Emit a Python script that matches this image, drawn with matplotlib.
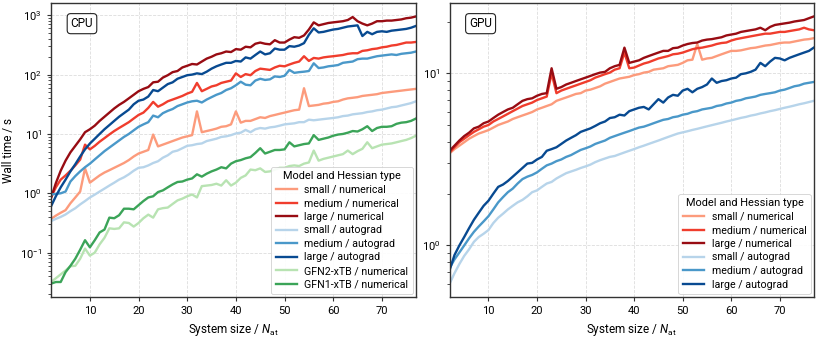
import matplotlib
matplotlib.use("Agg")
import matplotlib.pyplot as plt
from matplotlib import cm

plt.rcParams["font.family"] = ["Roboto", "DejaVu Sans"]
plt.rcParams["mathtext.fontset"] = "custom"
plt.rcParams["mathtext.rm"] = "Roboto"
plt.rcParams["mathtext.it"] = "Roboto:italic"
plt.rcParams["font.size"] = 8

# system sizes (number of atoms)
n_atoms = list(range(2, 78))

# ---- CPU wall times / s ----
cpu_small_num = [0.37, 0.42, 0.47, 0.52, 0.68, 0.85, 1.07, 2.63,
                 1.51, 1.74, 2.0, 2.24, 2.45, 2.69, 2.95, 3.24, 3.63, 4.17,
                 4.68, 5.01, 5.37, 9.77, 6.17, 6.61, 7.08, 7.59, 8.13, 8.71,
                 9.12, 9.55, 24.0, 10.7, 11.2, 11.7, 12.3, 13.2, 13.5, 14.5,
                 24.0, 15.5, 16.6, 16.6, 17.8, 19.1, 18.6, 20.0, 20.9, 21.9,
                 22.9, 24.0, 25.1, 25.7, 58.9, 29.5, 30.2, 30.9, 32.4, 33.1,
                 34.7, 35.5, 38.0, 39.8, 40.7, 41.7, 43.7, 44.7, 45.7, 46.8,
                 49.0, 50.1, 51.3, 52.5, 53.7, 55.0, 56.2, 57.5]
cpu_medium_num = [0.85, 1.26, 1.7, 2.0, 2.4, 2.95, 3.7, 6.6,
                  5.5, 6.3, 7.4, 8.5, 9.8, 11.2, 12.6, 14.1, 15.8, 18.2,
                  20.9, 22.9, 27.5, 34.7, 28.8, 31.6, 35.5, 38.0, 40.7, 43.7,
                  47.9, 51.3, 72.4, 52.5, 57.5, 63.1, 66.1, 72.4, 75.9, 79.4,
                  105, 91.2, 102, 97.7, 115, 126, 123, 120, 132, 141,
                  138, 148, 158, 166, 204, 170, 191, 186, 195, 200,
                  204, 209, 214, 224, 229, 229, 251, 257, 269, 275,
                  288, 295, 309, 316, 331, 347, 347, 355]
cpu_large_num = [0.83, 1.48, 2.4, 3.55, 4.9, 6.3, 8.1, 10.7,
                 12.0, 13.8, 16.6, 19.5, 22.9, 26.9, 30.9, 34.7, 39.8, 45.7,
                 52.5, 57.5, 61.7, 74.1, 75.9, 89.1, 97.7, 110, 115, 132,
                 141, 151, 148, 166, 186, 200, 219, 229, 245, 240,
                 269, 263, 295, 288, 331, 347, 331, 324, 380, 347,
                 347, 389, 427, 417, 457, 575, 759, 676, 708, 741,
                 759, 776, 794, 832, 933, 794, 724, 676, 724, 794,
                 794, 813, 813, 832, 851, 891, 912, 955]
cpu_small_auto = [0.34, 0.37, 0.4, 0.44, 0.5, 0.56, 0.65, 0.74,
                  0.85, 0.95, 1.07, 1.2, 1.35, 1.51, 1.7, 1.86, 2.09, 2.4,
                  2.69, 2.75, 2.95, 3.24, 3.47, 3.98, 4.37, 5.01, 5.25, 5.75,
                  6.31, 6.46, 6.76, 6.92, 7.59, 7.94, 8.32, 8.91, 9.12, 9.55,
                  10.2, 10.5, 11.7, 10.7, 12.0, 12.6, 12.3, 12.9, 13.2, 13.8,
                  14.5, 14.8, 15.1, 15.8, 15.8, 17.4, 17.0, 17.4, 17.8, 18.2,
                  18.6, 19.1, 20.0, 20.4, 21.4, 21.9, 22.4, 23.4, 24.0, 25.1,
                  25.7, 26.9, 28.2, 28.8, 30.2, 31.6, 33.1, 35.5]
cpu_medium_auto = [0.95, 0.98, 1.0, 1.07, 1.58, 1.95, 2.34, 2.75,
                   3.16, 3.72, 4.37, 5.13, 5.89, 6.76, 7.76, 8.91, 10.0, 11.5,
                   13.2, 14.5, 15.8, 20.4, 19.1, 22.4, 24.5, 26.3, 29.5, 31.6,
                   33.9, 35.5, 36.3, 33.9, 38.0, 41.7, 45.7, 49.0, 55.0, 58.9,
                   66.1, 75.9, 67.6, 66.1, 79.4, 85.1, 81.3, 83.2, 93.3, 91.2,
                   95.5, 120, 107, 110, 112, 115, 155, 129, 132, 138,
                   141, 145, 158, 162, 166, 182, 186, 186, 195, 204,
                   209, 214, 219, 214, 224, 229, 234, 245]
cpu_large_auto = [0.6, 0.89, 1.26, 1.7, 2.34, 3.09, 4.17, 5.5,
                  6.9, 8.3, 10.0, 12.0, 14.1, 16.6, 19.5, 22.4, 25.7, 31.6,
                  36.3, 38.0, 42.7, 55.0, 52.5, 60.3, 69.2, 74.1, 85.1, 91.2,
                  97.7, 100, 105, 102, 112, 126, 138, 148, 158, 158,
                  170, 166, 195, 186, 214, 245, 219, 229, 275, 263,
                  263, 302, 295, 309, 339, 468, 603, 513, 525, 550,
                  575, 589, 617, 646, 661, 676, 447, 525, 479, 525,
                  537, 525, 550, 562, 575, 589, 617, 661]
cpu_gfn2 = [0.032, 0.037, 0.043, 0.05, 0.059, 0.06, 0.079, 0.117,
            0.089, 0.1, 0.138, 0.178, 0.257, 0.251, 0.257, 0.324, 0.316, 0.275,
            0.316, 0.38, 0.437, 0.389, 0.537, 0.562, 0.575, 0.661, 0.759, 0.813,
            0.891, 0.955, 0.851, 1.32, 1.35, 1.38, 1.45, 1.35, 1.66, 1.35,
            1.51, 1.82, 2.0, 2.51, 2.45, 2.63, 2.29, 2.34, 2.51, 2.69,
            2.69, 2.88, 2.95, 2.88, 3.16, 3.31, 5.25, 3.55, 3.8, 3.98,
            4.17, 4.37, 4.57, 5.25, 4.57, 5.13, 5.62, 7.24, 5.75, 6.17,
            6.61, 6.76, 6.92, 7.24, 7.59, 7.94, 8.51, 9.33]
cpu_gfn1 = [0.030, 0.032, 0.032, 0.047, 0.060, 0.079, 0.112, 0.162,
            0.123, 0.162, 0.219, 0.245, 0.389, 0.38, 0.427, 0.55, 0.55, 0.537,
            0.631, 0.741, 0.851, 0.891, 1.05, 1.12, 1.26, 1.41, 1.55, 1.58,
            1.7, 1.78, 2.09, 1.91, 2.14, 2.34, 2.51, 2.75, 2.63, 3.16,
            3.47, 3.63, 3.89, 4.07, 4.79, 5.75, 4.68, 5.01, 5.37, 5.37,
            5.5, 7.24, 6.17, 6.46, 6.76, 6.92, 9.55, 7.94, 8.32, 8.71,
            9.33, 9.77, 10.0, 10.5, 11.2, 11.0, 12.0, 13.5, 11.2, 12.6,
            13.2, 13.2, 13.5, 14.8, 15.5, 15.8, 16.6, 18.2]

# ---- GPU wall times / s ----
gpu_small_num = [3.43, 3.63, 3.8, 3.98, 4.17, 4.32, 4.47, 4.57,
                 4.68, 4.84, 5.01, 5.13, 5.25, 5.43, 5.56, 5.69, 5.82, 5.96,
                 6.17, 6.31, 6.46, 6.61, 6.92, 7.08, 7.24, 7.41, 7.59, 7.67,
                 7.94, 8.04, 8.22, 8.41, 8.71, 8.91, 9.12, 9.33, 9.44, 9.55,
                 9.77, 9.89, 10.1, 10.2, 10.5, 10.6, 10.7, 11.0, 11.1, 11.2,
                 11.5, 11.9, 12.0, 14.8, 12.0, 12.2, 12.3, 12.6, 12.9, 13.2,
                 13.5, 13.5, 13.6, 13.8, 14.0, 14.1, 14.3, 14.5, 14.6, 14.8,
                 15.0, 15.1, 15.1, 15.3, 15.5, 15.7, 15.8, 16.0]
gpu_medium_num = [3.47, 3.72, 3.98, 4.17, 4.37, 4.57, 4.73, 4.9,
                  5.01, 5.25, 5.43, 5.62, 5.82, 6.03, 6.24, 6.46, 6.61, 6.76,
                  7.0, 7.16, 7.33, 10.0, 7.67, 7.94, 8.13, 8.32, 8.51, 8.71,
                  8.91, 9.12, 9.44, 9.66, 9.89, 10.1, 10.5, 10.7, 13.2, 10.7,
                  10.8, 11.1, 11.4, 11.6, 11.9, 12.2, 12.4, 12.6, 12.9, 13.0,
                  13.2, 13.5, 13.8, 14.0, 14.1, 14.3, 14.5, 14.8, 15.0, 15.1,
                  15.5, 15.8, 16.0, 16.2, 16.4, 16.6, 16.8, 17.0, 17.0, 17.2,
                  17.4, 17.4, 17.6, 17.8, 18.0, 18.4, 18.0, 17.8]
gpu_large_num = [3.55, 3.8, 4.07, 4.32, 4.52, 4.79, 4.9, 5.13,
                 5.25, 5.5, 5.75, 5.96, 6.17, 6.31, 6.61, 6.92, 7.08, 7.16,
                 7.41, 7.59, 7.67, 10.7, 8.13, 8.32, 8.61, 8.81, 9.02, 9.23,
                 9.44, 9.66, 9.89, 10.1, 10.2, 10.7, 11.0, 11.2, 14.1, 11.5,
                 11.7, 11.9, 12.3, 12.6, 12.9, 13.2, 13.5, 13.5, 14.0, 14.1,
                 14.5, 14.8, 15.0, 15.1, 15.5, 15.7, 15.8, 16.0, 16.2, 16.6,
                 16.8, 17.0, 17.4, 17.6, 17.8, 18.0, 18.4, 17.8, 18.6, 19.1,
                 19.3, 19.5, 19.7, 20.0, 20.2, 20.4, 20.9, 21.4]
gpu_small_auto = [0.60, 0.69, 0.78, 0.87, 0.95, 1.05, 1.12, 1.17,
                  1.23, 1.35, 1.45, 1.53, 1.62, 1.7, 1.78, 1.84, 1.93, 2.04,
                  2.09, 2.19, 2.29, 2.34, 2.45, 2.54, 2.63, 2.69, 2.75, 2.82,
                  2.88, 2.95, 3.05, 3.13, 3.2, 3.27, 3.31, 3.39, 3.47, 3.55,
                  3.63, 3.72, 3.8, 3.89, 3.98, 4.07, 4.17, 4.27, 4.37, 4.47,
                  4.54, 4.61, 4.69, 4.76, 4.84, 4.92, 5.0, 5.08, 5.16, 5.25,
                  5.33, 5.42, 5.51, 5.58, 5.68, 5.75, 5.85, 5.93, 6.03, 6.11,
                  6.21, 6.31, 6.4, 6.5, 6.61, 6.7, 6.81, 6.92]
gpu_medium_auto = [0.74, 0.83, 0.91, 1.0, 1.1, 1.2, 1.29, 1.38,
                   1.48, 1.62, 1.78, 1.91, 2.04, 2.14, 2.29, 2.43, 2.51, 2.57,
                   2.66, 2.79, 2.92, 2.99, 3.09, 3.16, 3.27, 3.35, 3.47, 3.59,
                   3.67, 3.76, 3.89, 3.98, 4.07, 4.22, 4.32, 4.42, 4.52, 4.62,
                   4.73, 4.84, 4.9, 5.01, 5.13, 5.25, 5.37, 5.43, 5.56, 5.62,
                   5.75, 5.82, 5.96, 6.03, 6.17, 6.24, 6.31, 6.46, 6.53, 6.68,
                   6.76, 6.92, 7.0, 7.16, 7.24, 7.33, 7.5, 7.59, 7.67, 7.76,
                   7.94, 8.04, 8.22, 8.41, 8.51, 8.71, 8.81, 8.91]
gpu_large_auto = [0.72, 0.88, 1.0, 1.12, 1.26, 1.41, 1.55, 1.7,
                  1.82, 2.0, 2.19, 2.26, 2.37, 2.51, 2.66, 2.82, 2.99, 3.02,
                  3.16, 3.27, 3.55, 3.63, 3.72, 3.89, 4.07, 4.22, 4.37, 4.57,
                  4.68, 4.79, 4.95, 5.13, 5.25, 5.5, 5.56, 5.75, 5.69, 6.03,
                  6.17, 6.31, 6.38, 6.17, 6.61, 7.08, 6.76, 7.24, 7.5, 7.41,
                  7.94, 8.13, 7.76, 8.13, 8.32, 8.61, 9.33, 8.81, 9.02, 9.12,
                  9.33, 9.44, 9.89, 10.0, 10.2, 10.5, 11.5, 11.0, 11.7, 12.3,
                  12.2, 11.9, 12.3, 12.6, 12.9, 13.2, 13.5, 14.1]

reds = cm.Reds([0.35, 0.62, 0.9])
blues = cm.Blues([0.3, 0.6, 0.9])
greens = cm.Greens([0.3, 0.65])

cpu_series = [
    (cpu_small_num, "small / numerical", reds[0]),
    (cpu_medium_num, "medium / numerical", reds[1]),
    (cpu_large_num, "large / numerical", reds[2]),
    (cpu_small_auto, "small / autograd", blues[0]),
    (cpu_medium_auto, "medium / autograd", blues[1]),
    (cpu_large_auto, "large / autograd", blues[2]),
    (cpu_gfn2, "GFN2-xTB / numerical", greens[0]),
    (cpu_gfn1, "GFN1-xTB / numerical", greens[1]),
]
gpu_series = [
    (gpu_small_num, "small / numerical", reds[0]),
    (gpu_medium_num, "medium / numerical", reds[1]),
    (gpu_large_num, "large / numerical", reds[2]),
    (gpu_small_auto, "small / autograd", blues[0]),
    (gpu_medium_auto, "medium / autograd", blues[1]),
    (gpu_large_auto, "large / autograd", blues[2]),
]

fig = plt.figure(figsize=(8.22, 3.43), dpi=100)
ax1 = fig.add_axes([0.062, 0.134, 0.444, 0.857])
ax2 = fig.add_axes([0.547, 0.134, 0.443, 0.857])

for ax, series, tag in [(ax1, cpu_series, "CPU"), (ax2, gpu_series, "GPU")]:
    for vals, label, col in series:
        ax.plot(n_atoms, vals, color=col, lw=1.7, label=label)
    ax.set_yscale("log")
    ax.set_xlim(2, 77)
    ax.grid(True, which="major", ls="--", lw=0.6, color="#dddddd")
    ax.set_axisbelow(True)
    for sp in ax.spines.values():
        sp.set_color("#333333")
        sp.set_linewidth(1.0)
    ax.tick_params(labelsize=8, length=3, width=0.8, color="#333333")
    ax.tick_params(which="minor", length=2, width=0.6, color="#333333")
    ax.set_xlabel(r"System size / $N_\mathrm{at}$", fontsize=8.5)
    ax.text(0.085, 0.93, tag, transform=ax.transAxes, fontsize=8.5,
            ha="center", va="center",
            bbox=dict(boxstyle="round,pad=0.3", fc="white", ec="#222222", lw=0.8))
    leg = ax.legend(title="Model and Hessian type", loc="lower right",
                    fontsize=7.7, title_fontsize=7.9, framealpha=0.9,
                    edgecolor="#cccccc", handlelength=2.0, handletextpad=0.7,
                    borderpad=0.4, labelspacing=0.33, borderaxespad=0.3)
    leg.get_frame().set_linewidth(0.6)

ax1.set_ylabel("Wall time / s", fontsize=8.5)

fig.savefig("out.png", dpi=100)
